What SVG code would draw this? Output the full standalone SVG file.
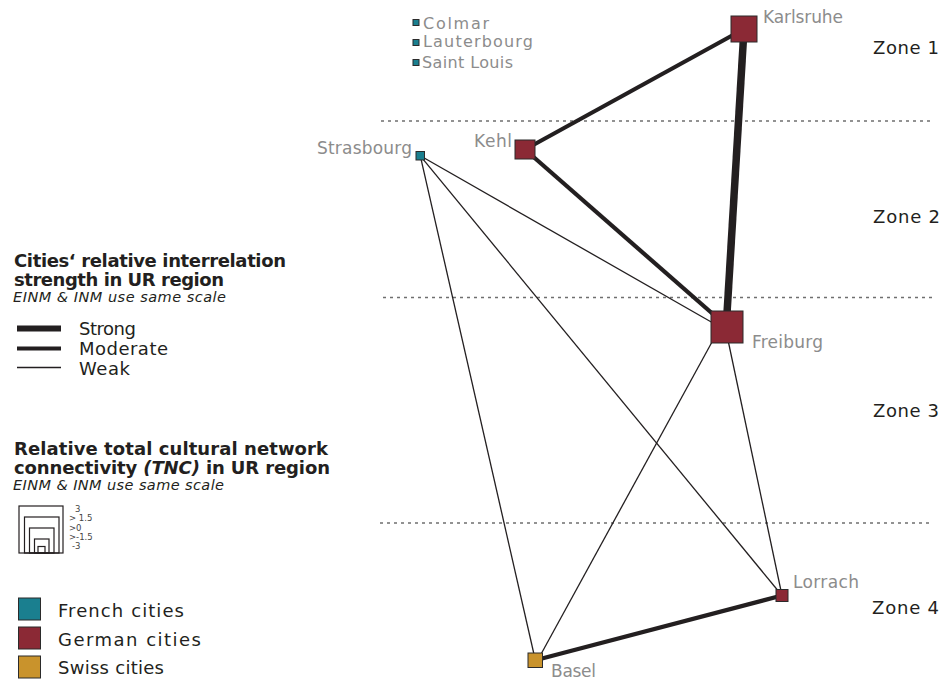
<svg xmlns="http://www.w3.org/2000/svg" width="942" height="679" viewBox="0 0 942 679">
<style>
text{font-family:"DejaVu Sans","Liberation Sans",sans-serif}
.title{font-size:18px;font-weight:bold;fill:#231f20}
.sub{font-size:14.5px;font-style:italic;fill:#231f20}
.leg{font-size:18px;fill:#231f20}
.city{font-size:17px;fill:#8c8c8c}
.town{font-size:16px;fill:#8c8c8c}
.zone{font-size:18px;fill:#231f20}
.scale{font-size:8.5px;fill:#444}
.dots{stroke:#6f6f6f;stroke-width:1.3;stroke-dasharray:3 4;fill:none}
.link{stroke:#231f20;fill:none;stroke-linecap:butt}
.weak{stroke-width:1.3}
.mod{stroke-width:4.2}
.strong{stroke-width:7.5}
.fr{fill:#1a7f8f;stroke:#2b2b2b;stroke-width:1}
.de{fill:#8b2935;stroke:#2b2b2b;stroke-width:1}
.ch{fill:#c9932c;stroke:#2b2b2b;stroke-width:1}
.nest{fill:none;stroke:#231f20;stroke-width:1.2}
</style>

<g id="zones">
<line class="dots" x1="381" y1="121" x2="933" y2="121"/>
<line class="dots" x1="383" y1="297.5" x2="933" y2="297.5"/>
<line class="dots" x1="380" y1="523" x2="933" y2="523"/>
<text class="zone" x="873" y="54" textLength="66">Zone 1</text>
<text class="zone" x="873" y="223" textLength="67">Zone 2</text>
<text class="zone" x="873" y="417" textLength="66">Zone 3</text>
<text class="zone" x="872" y="614" textLength="67">Zone 4</text>
</g>

<g id="connectors">
<line class="link mod" x1="525" y1="149.5" x2="744" y2="29"/>
<line class="link strong" x1="744" y1="29" x2="726.5" y2="322"/>
<line class="link mod" x1="525" y1="149.5" x2="722" y2="322"/>
<line class="link weak" x1="420.3" y1="155.8" x2="720" y2="327"/>
<line class="link weak" x1="420.3" y1="155.8" x2="535.3" y2="660"/>
<line class="link weak" x1="420.3" y1="155.8" x2="782" y2="595.5"/>
<line class="link weak" x1="712" y1="342" x2="540" y2="656"/>
<line class="link weak" x1="728" y1="340" x2="782" y2="595.5"/>
<line class="link mod" x1="535.3" y1="660.3" x2="782" y2="595.5"/>
</g>

<g id="node-colmar"><rect class="fr" x="413" y="19.5" width="6" height="6"/><text class="town" x="423" y="29" textLength="66">Colmar</text></g>
<g id="node-lauterbourg"><rect class="fr" x="413" y="39.5" width="6" height="6"/><text class="town" x="423" y="47" textLength="110">Lauterbourg</text></g>
<g id="node-saintlouis"><rect class="fr" x="413" y="59.5" width="6" height="6"/><text class="town" x="422" y="68" textLength="91">Saint Louis</text></g>
<g id="node-karlsruhe"><rect class="de" x="731" y="16" width="26" height="26"/><text class="city" x="763" y="23" textLength="80">Karlsruhe</text></g>
<g id="node-kehl"><rect class="de" x="515" y="140" width="20" height="19"/><text class="city" x="474" y="146.5" textLength="38">Kehl</text></g>
<g id="node-strasbourg"><rect class="fr" x="416" y="151.5" width="8.5" height="8.5"/><text class="city" x="317" y="154" textLength="95">Strasbourg</text></g>
<g id="node-freiburg"><rect class="de" x="711" y="311" width="32" height="32"/><text class="city" x="752" y="348" textLength="71">Freiburg</text></g>
<g id="node-lorrach"><rect class="de" x="776" y="589.5" width="12" height="12"/><text class="city" x="793" y="588" textLength="66">Lorrach</text></g>
<g id="node-basel"><rect class="ch" x="528" y="653" width="14.5" height="14.5"/><text class="city" x="551" y="676.5" textLength="45">Basel</text></g>

<g id="legend-strength">
<text class="title" x="14" y="267" textLength="272">Cities‘ relative interrelation</text>
<text class="title" x="14" y="286" textLength="210">strength in UR region</text>
<text class="sub" x="13" y="302" textLength="213">EINM &amp; INM use same scale</text>
<line class="link" stroke-width="6" x1="17" y1="328.5" x2="61" y2="328.5"/>
<line class="link" stroke-width="4" x1="17" y1="348.5" x2="61" y2="348.5"/>
<line class="link" stroke-width="1.3" x1="17" y1="367.5" x2="61" y2="367.5"/>
<text class="leg" x="79" y="335" textLength="57">Strong</text>
<text class="leg" x="79" y="355" textLength="89">Moderate</text>
<text class="leg" x="79" y="375" textLength="51">Weak</text>
</g>

<g id="legend-tnc">
<text class="title" x="14" y="454.5" textLength="314">Relative total cultural network</text>
<text class="title" x="14" y="473.5" textLength="316">connectivity <tspan font-style="italic">(TNC)</tspan> in UR region</text>
<text class="sub" x="13" y="489.5" textLength="211">EINM &amp; INM use same scale</text>
<rect class="nest" x="19" y="506" width="44" height="47"/>
<rect class="nest" x="24.5" y="517" width="34.5" height="36"/>
<rect class="nest" x="29.5" y="528" width="24.5" height="25"/>
<rect class="nest" x="34.5" y="539" width="14.5" height="14"/>
<rect class="nest" x="38" y="546.5" width="7" height="6.5"/>
<text class="scale" x="75" y="512">3</text>
<text class="scale" x="69" y="521">&gt; 1.5</text>
<text class="scale" x="69" y="530.5">&gt;0</text>
<text class="scale" x="69" y="539.5">&gt;-1.5</text>
<text class="scale" x="72" y="548.5">-3</text>
</g>

<g id="legend-countries">
<rect class="fr" x="18.5" y="598" width="22" height="22"/>
<rect class="de" x="18.5" y="627" width="22" height="22"/>
<rect class="ch" x="18.5" y="656" width="22" height="22"/>
<text class="leg" font-size="20" x="58" y="617" textLength="126">French cities</text>
<text class="leg" font-size="20" x="58" y="646" textLength="143">German cities</text>
<text class="leg" font-size="20" x="58" y="674" textLength="106">Swiss cities</text>
</g>
</svg>
